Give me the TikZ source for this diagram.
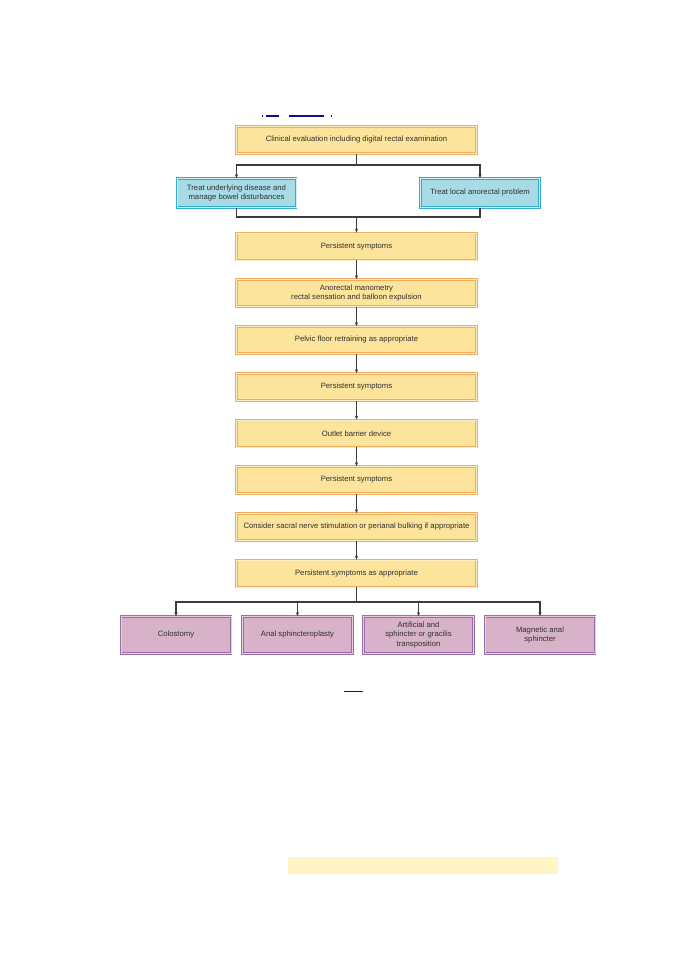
\documentclass[tikz,border=0pt]{standalone}
\usepackage{fontspec}
\setmainfont{Liberation Sans}
\usetikzlibrary{arrows.meta}
\definecolor{yfill}{HTML}{FDE49C}
\definecolor{yline}{HTML}{F0AC5C}
\definecolor{yin}{HTML}{FFEFC0}
\definecolor{bfill}{HTML}{A8DBE6}
\definecolor{bline}{HTML}{36ABD0}
\definecolor{bin}{HTML}{D0EEF5}
\definecolor{pfill}{HTML}{D8B2C9}
\definecolor{pline}{HTML}{9A6EA6}
\definecolor{pin}{HTML}{E8CCDD}
\definecolor{conn}{HTML}{3C3C3C}
\definecolor{txt}{HTML}{303030}
\definecolor{navy}{HTML}{10108C}
\definecolor{pale}{HTML}{FFF6C4}
\tikzset{
  box/.style={rectangle, inner sep=0pt, align=center, text=txt,
    font=\fontsize{7.7}{9.2}\selectfont, line width=0.7pt},
  ybox/.style={box, fill=yfill, draw=yline, double=yin, double distance=0.8pt,
    minimum width=240pt, minimum height=27pt},
  bbox/.style={box, fill=bfill, draw=bline, double=bin, double distance=0.8pt,
    minimum width=119pt, minimum height=29pt},
  pbox/.style={box, fill=pfill, draw=pline, double=pin, double distance=0.8pt,
    minimum width=110pt, minimum height=37pt},
  link/.style={draw=conn, line width=1.1pt},
  arr/.style={link, -{Stealth[length=4pt,width=3.2pt]}}
}
\begin{document}
\begin{tikzpicture}[x=1pt,y=-1pt]
\useasboundingbox (0,0) rectangle (678,960);
% stray marks
\fill[navy] (262,115) rectangle (263.2,116.6);
\fill[navy] (266,114.6) rectangle (279,116.6);
\fill[navy] (289,114.6) rectangle (324,116.6);
\fill[navy] (330.5,115) rectangle (331.5,117);
\fill[navy] (344,691) rectangle (363,692.4);
\fill[pale] (288,857) rectangle (558,874);

\node[ybox] (top) at (356.5,140) {Clinical evaluation including digital rectal examination};
\node[bbox] (bl) at (236.5,193) {Treat underlying disease and\\manage bowel disturbances};
\node[bbox] (br) at (480,193) {Treat local anorectal problem};
\node[ybox] (p1) at (356.5,246.5) {Persistent symptoms};
\node[ybox] (am) at (356.5,293) {Anorectal manometry\\rectal sensation and balloon expulsion};
\node[ybox] (pf) at (356.5,340) {Pelvic floor retraining as appropriate};
\node[ybox] (p2) at (356.5,387) {Persistent symptoms};
\node[ybox] (ob) at (356.5,433.5) {Outlet barrier device};
\node[ybox] (p3) at (356.5,480) {Persistent symptoms};
\node[ybox] (sn) at (356.5,527) {Consider sacral nerve stimulation or perianal bulking if appropriate};
\node[ybox] (p4) at (356.5,573.5) {Persistent symptoms as appropriate};
\node[pbox] (c1) at (176,635) {Colostomy};
\node[pbox] (c2) at (297.5,635) {Anal sphincteroplasty};
\node[pbox] (c3) at (418.5,635) {Artificial and\\sphincter or gracilis\\transposition};
\node[pbox] (c4) at (540,635) {Magnetic anal\\sphincter};

\coordinate (j1) at (356.5,165);
\coordinate (j2) at (356.5,217);
\coordinate (j3) at (356.5,602);
\draw[link] (top.south) -- (j1);
\draw[arr] (j1) -| (bl.north);
\draw[arr] (j1) -| (br.north);
\draw[link] (bl.south) |- (j2);
\draw[link] (br.south) |- (j2);
\draw[arr] (j2) -- (p1.north);
\draw[arr] (p1) -- (am);
\draw[arr] (am) -- (pf);
\draw[arr] (pf) -- (p2);
\draw[arr] (p2) -- (ob);
\draw[arr] (ob) -- (p3);
\draw[arr] (p3) -- (sn);
\draw[arr] (sn) -- (p4);
\draw[link] (p4.south) -- (j3);
\draw[arr] (j3) -| (c1.north);
\draw[arr] (j3) -| (c2.north);
\draw[arr] (j3) -| (c3.north);
\draw[arr] (j3) -| (c4.north);
\end{tikzpicture}
\end{document}
